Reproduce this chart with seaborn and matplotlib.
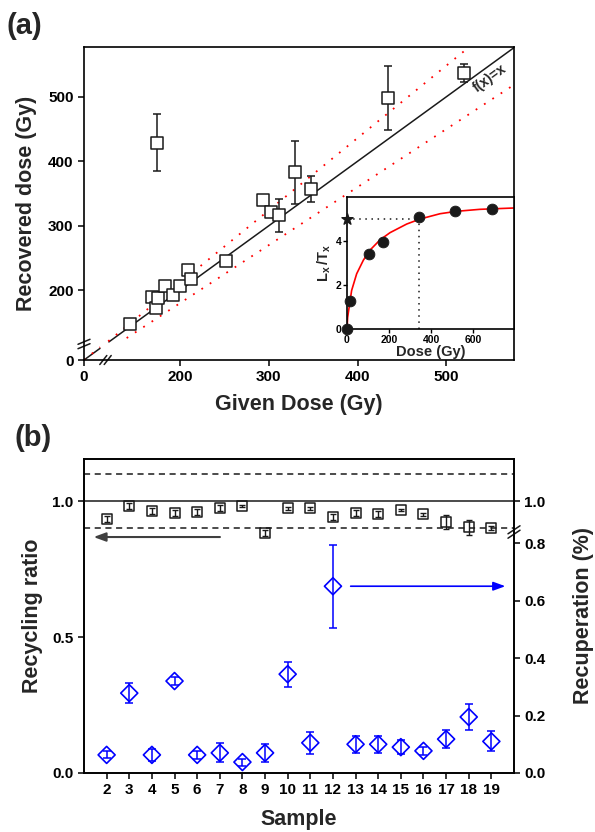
import numpy as np
import matplotlib
matplotlib.use('Agg')
import matplotlib.pyplot as plt
import seaborn as sns

# ---------- (a) dose recovery ----------
given_dose = [144, 168, 173, 175, 183, 192, 200, 209, 212, 252, 294, 303, 312, 330, 347, 174, 434, 520]
recovered_dose = [148, 190, 173, 188, 206, 193, 207, 232, 217, 245, 340, 321, 316, 383, 357, 429, 498, 536]
recovered_err = [5, 6, 6, 4, 4, 5, 4, 5, 6, 5, 3, 4, 25, 49, 20, 44, 50, 14]

# inset: dose response curve
inset_dose = [0, 16, 103, 170, 341, 516, 689]
inset_lxtx = [0, 1.26, 3.39, 3.97, 5.09, 5.35, 5.46]
fit_dose = [0, 3, 10, 22, 46, 78, 110, 157, 205, 284, 348, 443, 522, 633, 795]
fit_lxtx = [0, 0.52, 0.98, 1.75, 2.51, 3.13, 3.59, 4.05, 4.38, 4.77, 5.0, 5.24, 5.35, 5.44, 5.5]
natural_lxtx = 5.0
natural_dose = 341

# ---------- (b) recycling / recuperation ----------
samples = list(range(2, 20))
recycling = [0.934, 0.982, 0.963, 0.956, 0.960, 0.974, 0.982, 0.882, 0.974,
             0.974, 0.941, 0.956, 0.952, 0.967, 0.952, 0.923, 0.904, 0.900]
recycling_err = [0.012, 0.012, 0.012, 0.012, 0.012, 0.012, 0.005, 0.01, 0.005,
                 0.005, 0.012, 0.012, 0.012, 0.005, 0.005, 0.025, 0.027, 0.008]
recuperation = [0.063, 0.278, 0.063, 0.32, 0.063, 0.07, 0.038, 0.07, 0.344,
                0.105, 0.65, 0.10, 0.10, 0.09, 0.077, 0.118, 0.195, 0.11]
recuperation_err = [0.012, 0.035, 0.022, 0.015, 0.015, 0.033, 0.012, 0.03, 0.043,
                    0.038, 0.145, 0.03, 0.03, 0.025, 0.015, 0.03, 0.045, 0.035]

sns.set_theme(style='ticks', rc={'axes.edgecolor': 'black', 'xtick.color': 'black',
                                 'ytick.color': 'black', 'axes.linewidth': 1.2})
plt.rcParams['font.family'] = ['Liberation Sans', 'DejaVu Sans']
plt.rcParams['font.weight'] = 'bold'
plt.rcParams['mathtext.fontset'] = 'custom'
plt.rcParams['mathtext.bf'] = 'Liberation Sans:bold'
plt.rcParams['mathtext.rm'] = 'Liberation Sans:bold'

# broken axis (0-20 | 120-...)
LO, HI, GAP = 20, 120, 8


def brk_fwd(v):
    v = np.asarray(v, dtype=float)
    return np.where(v <= LO, v, np.where(v >= HI, v - (HI - LO) + GAP,
                                         LO + (v - LO) * GAP / (HI - LO)))


def brk_inv(t):
    t = np.asarray(t, dtype=float)
    return np.where(t <= LO, t, np.where(t >= LO + GAP, t + (HI - LO) - GAP,
                                         LO + (t - LO) * (HI - LO) / GAP))


# right axis of (b): 0-0.85 stretched, break, then same as left axis
def rec_fwd(v):
    v = np.asarray(v, dtype=float)
    return np.where(v <= 0.85, v * 1.057,
                    np.where(v >= 0.9, v, 0.8985 + (v - 0.85) * 0.03))


def rec_inv(t):
    t = np.asarray(t, dtype=float)
    return np.where(t <= 0.8985, t / 1.057,
                    np.where(t >= 0.9, t, 0.85 + (t - 0.8985) / 0.03))


W, H = 595, 832
fig = plt.figure(figsize=(5.95, 8.32), dpi=100)

# ===================== (a) =====================
ax_a = fig.add_axes([84 / W, 1 - 360 / H, 430 / W, 313 / H])
ax_a.set_xscale('function', functions=(brk_fwd, brk_inv))
ax_a.set_yscale('function', functions=(brk_fwd, brk_inv))
ax_a.set_xlim(0, 576)
ax_a.set_ylim(0, 577)

dotted_red = dict(color='red', lw=1.3, ls=(0, (1, 4.5)))
ax_a.plot([0, 18], [0, 18], color='k', lw=1.1)
ax_a.plot([120, 576], [120, 576], color='k', lw=1.1)
ax_a.plot([0, 18], [0, 19.8], **dotted_red)
ax_a.plot([110, 576], [121, 633.6], **dotted_red)
ax_a.plot([140, 576], [126, 518.4], **dotted_red)
ax_a.text(549, 529, 'f(x)=x', rotation=36, ha='center', va='center',
          fontsize=10, fontweight='bold', rotation_mode='anchor')

ax_a.errorbar(given_dose, recovered_dose, yerr=recovered_err, fmt='none', ecolor='k',
              elinewidth=1.1, capsize=3, capthick=1.1, zorder=2)
sns.scatterplot(x=given_dose, y=recovered_dose, marker='s', s=70, facecolor='white',
                edgecolor='k', linewidth=1.1, zorder=3, ax=ax_a)

ax_a.set_xticks([0, 200, 300, 400, 500])
ax_a.set_yticks([0, 200, 300, 400, 500])
ax_a.set_xticklabels(['0', '200', '300', '400', '500'])
ax_a.set_yticklabels(['0', '200', '300', '400', '500'])
ax_a.tick_params(labelsize=11, length=4, width=1.1)
ax_a.set_xlabel('Given Dose (Gy)', fontsize=15.5, fontweight='bold', labelpad=7)
ax_a.set_ylabel('Recovered dose (Gy)', fontsize=15.5, fontweight='bold', labelpad=8)

# break marks
tr = ax_a.transAxes
aw, ah = 430, 313
yc = (360 - 344) / ah
for off in (-2.2, 2.2):
    ax_a.plot([-6 / aw, 6 / aw], [yc + (off - 2.5) / ah, yc + (off + 2.5) / ah],
              color='k', lw=1.1, transform=tr, clip_on=False)
xc = (105.5 - 84) / aw
for off in (-2.2, 2.2):
    ax_a.plot([xc + (off - 3.5) / aw, xc + (off + 3.5) / aw], [-4.5 / ah, 4.5 / ah],
              color='k', lw=1.1, transform=tr, clip_on=False)

# inset
ax_in = fig.add_axes([347 / W, 1 - 329 / H, 167 / W, 132 / H])
ax_in.set_facecolor('white')
ax_in.set_xlim(0, 795)
ax_in.set_ylim(0, 6)
sns.lineplot(x=fit_dose, y=fit_lxtx, color='red', lw=1.2, sort=False, ax=ax_in)
ax_in.plot([0, natural_dose], [natural_lxtx, natural_lxtx], color='k', lw=1.1, ls=(0, (1, 3)))
ax_in.plot([natural_dose, natural_dose], [0, natural_lxtx], color='k', lw=1.1, ls=(0, (1, 3)))
sns.scatterplot(x=inset_dose, y=inset_lxtx, color='k', s=60, edgecolor='k',
                zorder=4, clip_on=False, ax=ax_in)
ax_in.scatter([0], [natural_lxtx], marker='*', s=70, color='k', zorder=5, clip_on=False)
ax_in.set_xticks([0, 200, 400, 600])
ax_in.set_yticks([0, 2, 4])
ax_in.tick_params(labelsize=7.5, length=3, width=1, pad=1)
ax_in.set_xlabel('Dose (Gy)', fontsize=10.5, fontweight='bold', labelpad=0)
ax_in.set_ylabel(r'$\mathbf{L_x\,/T_x}$', fontsize=10.5, labelpad=2)

fig.text(7 / W, 1 - 12 / H, '(a)', ha='left', va='top', fontsize=21, fontweight='bold')

# ===================== (b) =====================
ax_b = fig.add_axes([84 / W, 1 - 773 / H, 430 / W, 314 / H])
ax_b.set_xlim(1, 20)
ax_b.set_ylim(0, 1.155)
ax_b.axhline(1.0, color='k', lw=1.1)
ax_b.axhline(1.1, color='k', lw=1.1, ls=(0, (4, 3)))
ax_b.axhline(0.9, color='k', lw=1.1, ls=(0, (4, 3)))
ax_b.errorbar(samples, recycling, yerr=recycling_err, fmt='none', ecolor='k',
              elinewidth=1, capsize=2.5, capthick=1)
sns.scatterplot(x=samples, y=recycling, marker='s', s=52, facecolors='none',
                edgecolor='k', linewidth=1.1, zorder=3, ax=ax_b)
ax_b.annotate('', xy=(1.3, 0.868), xytext=(7.13, 0.868),
              arrowprops=dict(arrowstyle='-|>,head_length=0.6,head_width=0.22',
                              color='#404040', lw=1.5))
ax_b.set_xticks(samples)
ax_b.set_yticks([0, 0.5, 1.0])
ax_b.set_yticklabels(['0.0', '0.5', '1.0'])
ax_b.tick_params(labelsize=11, length=4, width=1.1)
ax_b.set_xlabel('Sample', fontsize=15.5, fontweight='bold', labelpad=8)
ax_b.set_ylabel('Recycling ratio', fontsize=15.5, fontweight='bold', labelpad=7)

ax_r = ax_b.twinx()
ax_r.set_yscale('function', functions=(rec_fwd, rec_inv))
ax_r.set_ylim(0, 1.155)
ax_r.errorbar(samples, recuperation, yerr=recuperation_err, fmt='none', ecolor='blue',
              elinewidth=1.1, capsize=3, capthick=1.1)
sns.scatterplot(x=samples, y=recuperation, marker='D', s=75, facecolors='none',
                edgecolor='blue', linewidth=1.2, zorder=3, ax=ax_r)
ax_r.annotate('', xy=(19.74, 0.65), xytext=(12.66, 0.65),
              arrowprops=dict(arrowstyle='-|>,head_length=0.6,head_width=0.22',
                              color='blue', lw=1.2))
ax_r.set_yticks([0, 0.2, 0.4, 0.6, 0.8, 1.0])
ax_r.set_yticklabels(['0.0', '0.2', '0.4', '0.6', '0.8', '1.0'])
ax_r.tick_params(labelsize=11, length=4, width=1.1)
ax_r.set_ylabel('Recuperation (%)', fontsize=15.5, fontweight='bold', labelpad=20)

bw, bh = 430, 314
yc = (773 - 532) / bh
for off in (-2.2, 2.2):
    ax_r.plot([1 - 6 / bw, 1 + 6 / bw], [yc + (off - 4) / bh, yc + (off + 4) / bh],
              color='k', lw=1.1, transform=ax_r.transAxes, clip_on=False)

fig.text(15 / W, 1 - 424 / H, '(b)', ha='left', va='top', fontsize=21, fontweight='bold')

fig.savefig('out.png', dpi=100)
